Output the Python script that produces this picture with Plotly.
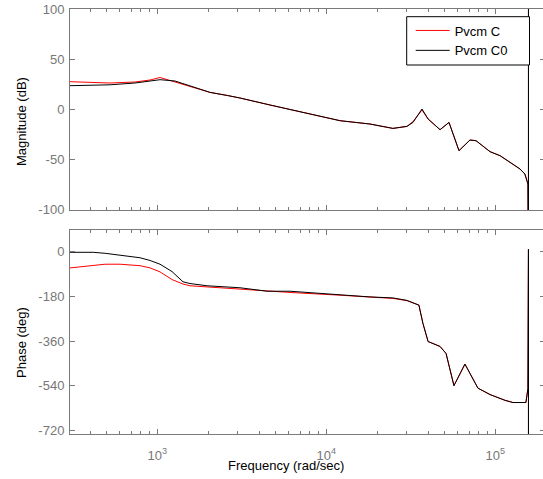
import plotly.graph_objects as go

# ---------------- data ----------------
mag_freq = [304, 399, 525, 738, 906, 1037, 1272, 1560, 2051, 2600, 3083, 4645, 6982,
            12050, 18110, 24770, 29990, 32580, 36810, 40000, 47100, 53200, 60950,
            70800, 76900, 93100, 106700, 122200, 140000, 149600, 156000, 157080, 157080]
mag_c = [27.3, 26.5, 26.0, 27.0, 29.0, 31.5, 27.0, 23.0, 16.6, 13.5, 11.0, 4.0, -3.0,
         -11.7, -15.0, -19.4, -17.4, -12.5, -1.0, -10.0, -20.7, -13.4, -41.7,
         -31.0, -31.7, -42.7, -46.7, -53.4, -60.0, -65.0, -75.0, -200, 200]
mag_c0 = [23.3, 24.0, 24.2, 26.0, 28.0, 29.3, 28.0, 23.0, 16.6, 13.5, 11.0, 4.0, -3.0,
          -11.7, -15.0, -19.4, -17.4, -13.4, 0.0, -10.0, -20.7, -13.4, -41.7,
          -31.0, -31.7, -42.7, -46.7, -53.4, -60.0, -65.0, -75.0, -200, 200]

phase_freq = [304, 417, 491, 601, 790, 906, 1037, 1222, 1418, 1560, 1968, 3083, 4457,
              6100, 12050, 18110, 24770, 29990, 35300, 37300, 40000, 43950, 47100,
              51100, 53950, 56900, 66100, 78900, 93100, 114000, 127100, 151700,
              156000, 157080, 157080]
phase_c = [-65, -55, -50, -50, -56, -65, -81, -112, -130, -137, -142, -150, -159,
           -164, -175, -184, -188, -197, -215, -289, -362, -373, -382,
           -410, -478, -540, -453, -550, -576, -599, -608, -608,
           -551, 10, -900]
phase_c0 = [-2, -2, -6, -13, -24, -35, -50, -80, -121, -128, -137, -145, -159,
            -159, -175, -182, -186, -196, -215, -289, -362, -373, -382,
            -410, -478, -540, -453, -550, -576, -599, -608, -608,
            -551, 10, -900]

series_names = ["Pvcm C", "Pvcm C0"]
series_colors = ["#ff0000", "#000000"]

x_tick_vals = [1e3, 1e4, 1e5]
x_tick_text = ["10<sup>3</sup>", "10<sup>4</sup>", "10<sup>5</sup>"]
mag_ticks = [-100, -50, 0, 50, 100]
mag_tick_text = ["-100", "-50", "0", "50", "100"]
phase_ticks = [-720, -540, -360, -180, 0]
phase_tick_text = ["-720", "-540", "-360", "-180", "0"]

# ---------------- figure ----------------
W, H = 545, 479
L, R, T, B = 70, 0, 9, 45
plot_h = H - T - B
plot_w = W - L - R


def py2paper(py):
    return (H - B - py) / plot_h


def px2paper(px):
    return (px - L) / plot_w


FONT = "Liberation Sans, Arial, sans-serif"

fig = go.Figure()
for name, color, ys in zip(series_names, series_colors, [mag_c, mag_c0]):
    fig.add_trace(go.Scatter(x=mag_freq, y=ys, mode="lines", name=name,
                             line=dict(color=color, width=1),
                             xaxis="x", yaxis="y"))
for name, color, ys in zip(series_names, series_colors, [phase_c, phase_c0]):
    fig.add_trace(go.Scatter(x=phase_freq, y=ys, mode="lines", name=name,
                             line=dict(color=color, width=1), showlegend=False,
                             xaxis="x2", yaxis="y2"))

axis_col = "#7a7a7a"
tick_font = dict(family=FONT, size=13, color="#777777")
xrange = [2.483, 5.294]

common_x = dict(type="log", range=xrange, showline=True, linecolor=axis_col,
                linewidth=1, mirror="ticks", ticks="inside", ticklen=5,
                tickcolor=axis_col, tickvals=x_tick_vals, ticktext=x_tick_text,
                showgrid=False, zeroline=False, tickfont=tick_font,
                minor=dict(ticks="inside", ticklen=3, tickcolor=axis_col,
                           dtick="D1", showgrid=False))

common_y = dict(showline=True, linecolor=axis_col, linewidth=1, mirror="ticks",
                ticks="inside", ticklen=5, tickcolor=axis_col, showgrid=False,
                zeroline=False, tickfont=tick_font, ticklabelstandoff=2)

fig.update_layout(
    width=W, height=H,
    margin=dict(l=L, r=R, t=T, b=B, pad=0),
    paper_bgcolor="white", plot_bgcolor="white",
    font=dict(family=FONT, size=13, color="#000000"),
    xaxis=dict(common_x, anchor="y", domain=[0, 1], showticklabels=False),
    xaxis2=dict(common_x, anchor="y2", domain=[0, 1], matches="x",
                ticklabelstandoff=9),
    yaxis=dict(common_y, domain=[py2paper(210), 1.0], range=[-101, 100],
               tickvals=mag_ticks, ticktext=mag_tick_text),
    yaxis2=dict(common_y, domain=[0, py2paper(230)], range=[-735, 88],
                tickvals=phase_ticks, ticktext=phase_tick_text),
    showlegend=True,
    legend=dict(x=px2paper(410.7), y=py2paper(15.5), xanchor="left", yanchor="top",
                bgcolor="rgba(0,0,0,0)", borderwidth=0,
                itemwidth=34, font=dict(size=13, color="#000000", family=FONT),
                tracegroupgap=0),
    shapes=[
        dict(type="rect", xref="paper", yref="paper", layer="above",
             x0=px2paper(406.7), x1=px2paper(529.5),
             y0=py2paper(65), y1=py2paper(16.7),
             line=dict(color="#000000", width=1), fillcolor="white"),
    ],
    annotations=[
        dict(text="Frequency (rad/sec)", xref="paper", yref="paper",
             x=px2paper(286), y=py2paper(466), showarrow=False,
             xanchor="center", yanchor="middle", font=dict(size=13)),
        dict(text="Magnitude (dB)", xref="paper", yref="paper",
             x=px2paper(21), y=py2paper(122), showarrow=False, textangle=-90,
             xanchor="center", yanchor="middle", font=dict(size=13)),
        dict(text="Phase (deg)", xref="paper", yref="paper",
             x=px2paper(21), y=py2paper(343), showarrow=False, textangle=-90,
             xanchor="center", yanchor="middle", font=dict(size=13)),
    ],
)

fig.write_html("out.html", config={"displayModeBar": False},
               post_script="document.body.style.margin='0';")
